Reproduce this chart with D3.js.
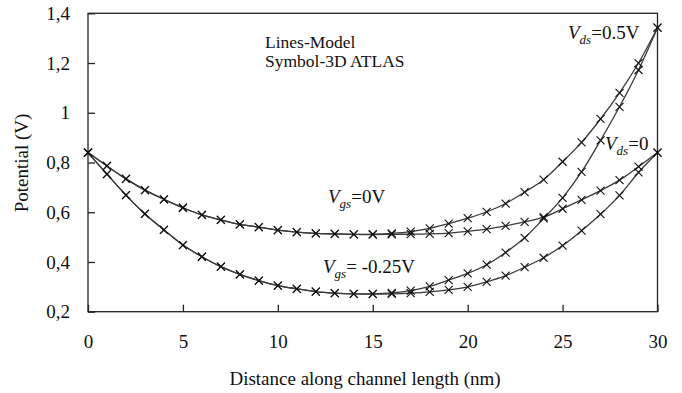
<!DOCTYPE html>
<html>
<head>
<meta charset="utf-8">
<script src="https://cdn.jsdelivr.net/npm/d3@7/dist/d3.min.js"></script>
<style>
  html, body { margin: 0; padding: 0; background: #fff; }
  svg { display: block; }
  text { font-family: "Liberation Serif", "Times New Roman", serif; fill: #111; }
</style>
</head>
<body>
<svg id="chart" width="682" height="393"></svg>
<script>
// ---- data ----
const distance = [0,1,2,3,4,5,6,7,8,9,10,11,12,13,14,15,16,17,18,19,20,21,22,23,24,25,26,27,28,29,30];

const vgs0_vds0 = [0.840,0.786,0.734,0.689,0.652,0.618,0.589,0.569,0.551,0.540,0.528,0.520,0.515,0.513,0.511,0.510,
                   0.511,0.512,0.513,0.516,0.523,0.532,0.545,0.561,0.580,0.614,0.650,0.687,0.729,0.783,0.840];
const vgs0_vds05 = [0.840,0.786,0.734,0.689,0.652,0.618,0.589,0.569,0.551,0.540,0.528,0.520,0.515,0.513,0.511,0.512,
                    0.515,0.522,0.535,0.554,0.576,0.601,0.635,0.681,0.731,0.803,0.881,0.975,1.080,1.200,1.342];
const vgsm025_vds0 = [0.840,0.753,0.669,0.593,0.529,0.468,0.421,0.381,0.350,0.325,0.305,0.292,0.281,0.275,0.272,0.271,
                      0.272,0.275,0.280,0.288,0.300,0.320,0.345,0.379,0.417,0.466,0.526,0.592,0.668,0.760,0.840];
const vgsm025_vds05 = [0.840,0.753,0.669,0.593,0.529,0.468,0.421,0.381,0.350,0.325,0.305,0.292,0.281,0.275,0.272,0.272,
                       0.276,0.285,0.302,0.327,0.354,0.389,0.438,0.497,0.575,0.658,0.762,0.889,1.024,1.172,1.342];

const seriesList = [vgs0_vds0, vgs0_vds05, vgsm025_vds0, vgsm025_vds05];

const xTicks = [0,5,10,15,20,25,30];
const yTicks = [0.2,0.4,0.6,0.8,1,1.2,1.4];
const xTitle = "Distance along channel length (nm)";
const yTitle = "Potential (V)";
const noteLines = ["Lines-Model", "Symbol-3D ATLAS"];

// ---- drawing ----
const svg = d3.select("#chart");
const L = 88, R = 657.5, T = 13.3, B = 311.7;
const FS = 19;

const x = d3.scaleLinear().domain([0, 30]).range([L, R]);
const y = d3.scaleLinear().domain([0.2, 1.4]).range([B, T]);

const fmtY = d => (Math.abs(d - 1) < 1e-9 ? "1" : d3.format(".1f")(d).replace(".", ","));

// y axis (ticks inside)
const gy = svg.append("g").attr("transform", `translate(${L},0)`)
  .call(d3.axisLeft(y).tickValues(yTicks).tickFormat(fmtY).tickSizeInner(-7).tickSizeOuter(0).tickPadding(18));
gy.select(".domain").remove();
gy.selectAll("line").attr("stroke", "#222").attr("stroke-width", 1.3);
gy.selectAll("text").attr("font-size", FS).attr("font-family", null);

// x axis (ticks inside)
const gx = svg.append("g").attr("transform", `translate(0,${B})`)
  .call(d3.axisBottom(x).tickValues(xTicks).tickSizeInner(-7).tickSizeOuter(0).tickPadding(22.8));
gx.select(".domain").remove();
gx.selectAll("line").attr("stroke", "#222").attr("stroke-width", 1.3);
gx.selectAll("text").attr("font-size", FS).attr("font-family", null);

// frame
svg.append("rect").attr("x", L).attr("y", T).attr("width", R - L).attr("height", B - T)
  .attr("fill", "none").attr("stroke", "#222").attr("stroke-width", 1.3);

// lines
const line = d3.line().x((d, i) => x(distance[i])).y(d => y(d)).curve(d3.curveCatmullRom.alpha(0.5));
svg.append("g").selectAll("path.curve").data(seriesList).join("path")
  .attr("class", "curve")
  .attr("d", d => line(d))
  .attr("fill", "none").attr("stroke", "#3a3a3a").attr("stroke-width", 1.3);

// markers (x symbols)
const s = 4;
const gm = svg.append("g");
seriesList.forEach(ser => {
  gm.append("g").selectAll("path").data(ser).join("path")
    .attr("transform", (d, i) => `translate(${x(distance[i])},${y(d)})`)
    .attr("d", `M${-s},${-s}L${s},${s}M${-s},${s}L${s},${-s}`)
    .attr("stroke", "#111").attr("stroke-width", 1.1).attr("fill", "none");
});

// axis titles
svg.append("text").attr("x", 365).attr("y", 385).attr("text-anchor", "middle")
  .attr("font-size", FS).text(xTitle);
svg.append("text").attr("transform", "translate(28,163) rotate(-90)").attr("text-anchor", "middle")
  .attr("font-size", FS).text(yTitle);

// note
noteLines.forEach((t, i) => {
  svg.append("text").attr("x", 265).attr("y", 47.5 + i * 19.5).attr("font-size", 17.5).text(t);
});

// V labels with italic subscripts
function vLabel(xp, yp, sub, rest) {
  const t = svg.append("text").attr("x", xp).attr("y", yp).attr("font-size", FS);
  t.append("tspan").attr("font-style", "italic").text("V");
  t.append("tspan").attr("font-style", "italic").attr("font-size", 13).attr("dy", 5).text(sub);
  t.append("tspan").attr("dy", -5).text(rest);
}
vLabel(328, 203, "gs", "=0V");
vLabel(323, 273, "gs", "= -0.25V");
vLabel(568, 39, "ds", "=0.5V");
vLabel(605, 150, "ds", "=0");
</script>
</body>
</html>
